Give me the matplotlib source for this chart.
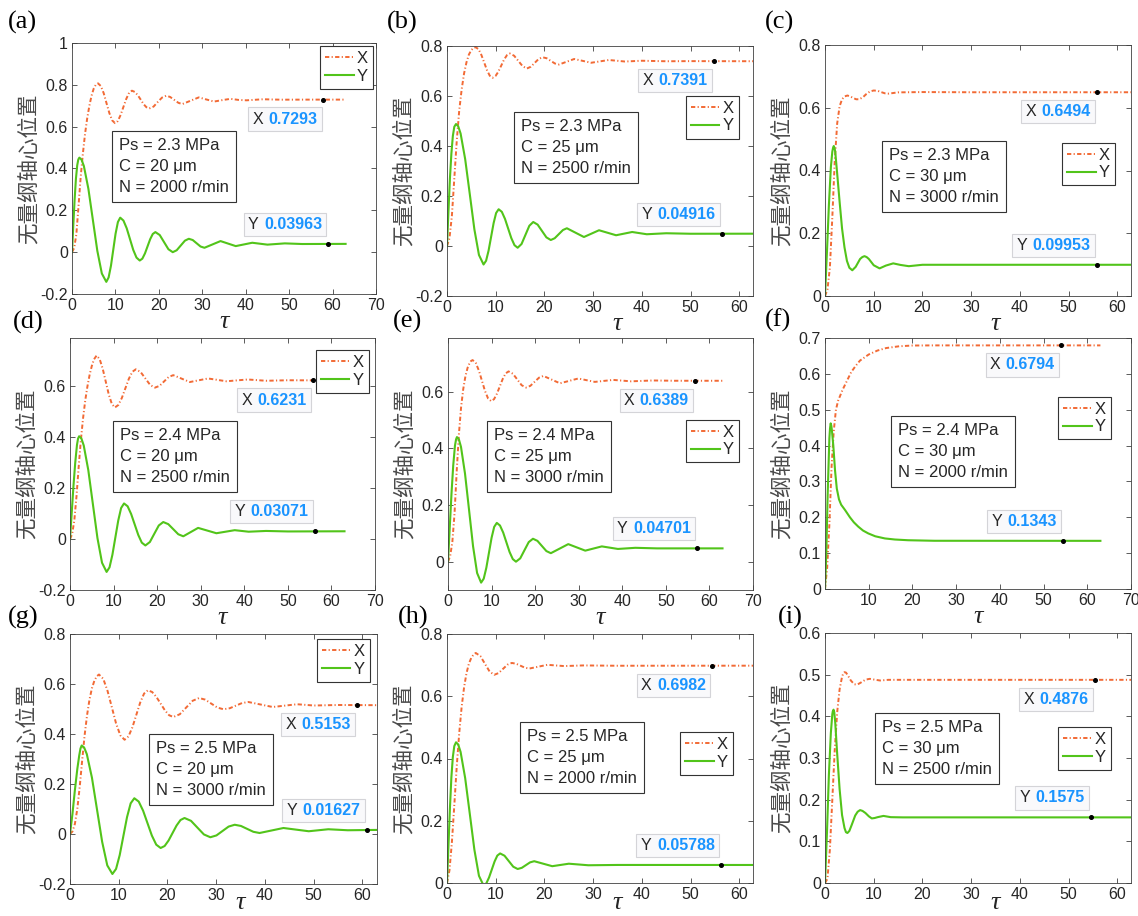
import matplotlib
matplotlib.use("Agg")
import matplotlib.pyplot as plt
from matplotlib.offsetbox import TextArea, HPacker, AnnotationBbox
from matplotlib.ticker import FuncFormatter

plt.rcParams['axes.unicode_minus'] = False
plt.rcParams['font.family'] = ['Liberation Sans', 'DejaVu Sans']

W, H = 1138, 916

# ---------------- data ----------------
# (a) Ps=2.3, C=20, N=2000
TAU_XA = [0, 0.5, 1, 1.5, 2, 2.5, 3, 3.5, 4, 4.5, 5, 5.5, 6, 6.65, 7.3, 7.95, 8.6, 9.25, 9.9, 10.55,
          11.2, 11.85, 12.5, 13.15, 13.8, 14.47, 15.13, 15.8, 16.47, 17.13, 17.8, 18.78, 19.75, 20.73,
          21.7, 22.6, 23.55, 24.5, 25.4, 27.3, 29.2, 30.95, 32.7, 34.6, 36.5, 38.3, 40.2, 44, 48, 55, 63]
XA = [0, 0.02, 0.085, 0.22, 0.36, 0.47, 0.565, 0.64, 0.70, 0.748, 0.782, 0.801, 0.807, 0.794, 0.760,
      0.712, 0.665, 0.630, 0.617, 0.627, 0.656, 0.695, 0.733, 0.762, 0.772, 0.766, 0.751, 0.730, 0.708,
      0.693, 0.687, 0.696, 0.718, 0.739, 0.748, 0.742, 0.728, 0.714, 0.708, 0.724, 0.740, 0.730, 0.720,
      0.727, 0.733, 0.728, 0.726, 0.731, 0.729, 0.7293, 0.7293]
TAU_YA = [0, 0.3, 0.6, 0.9, 1.2, 1.45, 1.7, 2.2, 2.73, 3.77, 4.8, 5.83, 6.87, 7.9, 8.43, 8.97, 9.5, 10.03,
          10.57, 11.1, 11.85, 12.6, 13.35, 14.1, 14.85, 15.6, 16.2, 16.8, 17.4, 18.0, 18.6, 19.2, 20.2,
          21.2, 22.2, 23.2, 24.1, 25.05, 26.0, 26.9, 27.8, 28.7, 29.6, 30.5, 32.35, 34.2, 35.95, 37.7,
          41.5, 45, 49, 53, 63]
YA = [0, 0.13, 0.25, 0.35, 0.415, 0.443, 0.452, 0.442, 0.412, 0.3035, 0.155, 0.0065, -0.102, -0.142,
      -0.121, -0.065, 0.0115, 0.088, 0.144, 0.165, 0.151, 0.114, 0.0625, 0.011, -0.026, -0.04, -0.031,
      -0.006, 0.028, 0.062, 0.087, 0.096, 0.082, 0.048, 0.014, 0.0, 0.009, 0.032, 0.055, 0.064, 0.058,
      0.0425, 0.027, 0.021, 0.037, 0.053, 0.041, 0.029, 0.045, 0.036, 0.042, 0.039, 0.0396]

# (b) Ps=2.3, C=25, N=2500
TAU_XB = [0, 0.5, 1, 1.5, 2, 2.5, 3, 3.5, 4, 4.5, 5, 5.5, 5.9, 6.48, 7.05, 7.63, 8.2, 8.78, 9.35, 9.94,
          10.53, 11.13, 11.72, 12.31, 12.9, 13.78, 14.65, 15.53, 16.4, 17.2, 18.0, 18.8, 19.6, 20.45,
          21.3, 22.15, 23.0, 24.55, 26.1, 27.85, 29.6, 31.4, 33.2, 36.5, 40, 45, 50, 63]
XB = [0, 0.03, 0.12, 0.27, 0.42, 0.54, 0.625, 0.69, 0.735, 0.766, 0.784, 0.793, 0.795, 0.787, 0.7645,
      0.734, 0.7035, 0.681, 0.673, 0.6795, 0.697, 0.7215, 0.746, 0.7635, 0.770, 0.761, 0.740, 0.719,
      0.710, 0.717, 0.7325, 0.748, 0.755, 0.751, 0.7405, 0.730, 0.726, 0.737, 0.748, 0.7405, 0.733,
      0.7385, 0.744, 0.738, 0.741, 0.739, 0.7395, 0.7391]
TAU_YB = [0, 0.3, 0.6, 0.9, 1.2, 1.5, 1.85, 2.3, 2.79, 3.73, 4.68, 5.62, 6.56, 7.5, 8.02, 8.53, 9.05, 9.57,
          10.08, 10.6, 11.25, 11.9, 12.55, 13.2, 13.85, 14.5, 15.3, 16.1, 16.9, 17.7, 18.6, 19.5, 20.4,
          21.3, 22.1, 22.95, 23.8, 24.6, 26.35, 28.1, 29.65, 31.2, 32.95, 34.7, 36.35, 38, 41, 45, 50, 63]
YB = [0, 0.14, 0.27, 0.37, 0.44, 0.477, 0.488, 0.479, 0.450, 0.3475, 0.207, 0.0665, -0.036, -0.074,
      -0.059, -0.0188, 0.0365, 0.0918, 0.132, 0.147, 0.1367, 0.1085, 0.070, 0.0315, 0.0033, -0.007,
      0.008, 0.0445, 0.081, 0.096, 0.0855, 0.060, 0.0345, 0.024, 0.031, 0.0475, 0.064, 0.071, 0.0535,
      0.036, 0.0495, 0.063, 0.053, 0.043, 0.0495, 0.056, 0.047, 0.051, 0.049, 0.0492]

# (c) Ps=2.3, C=30, N=3000
TAU_XC = [0, 0.5, 1, 1.5, 2, 2.5, 3, 3.5, 4, 4.6, 5.2, 5.8, 6.4, 7.0, 7.75, 8.5, 9.25, 10, 10.8, 11.5,
          12.3, 13.1, 14, 15, 20, 30, 63]
XC = [0, 0.02, 0.09, 0.25, 0.43, 0.55, 0.605, 0.627, 0.636, 0.639, 0.636, 0.631, 0.627, 0.627, 0.633,
      0.644, 0.652, 0.655, 0.654, 0.650, 0.646, 0.645, 0.647, 0.649, 0.650, 0.6494, 0.6494]
TAU_YC = [0, 0.4, 0.8, 1.2, 1.5, 1.65, 1.8, 1.95, 2.1, 2.5, 3, 3.5, 4, 4.5, 5, 5.6, 6.3, 7.2, 7.65, 8.1,
          8.55, 9, 10, 11.2, 12.5, 14, 15.5, 17.2, 20, 30, 63]
YC = [0, 0.14, 0.29, 0.41, 0.46, 0.472, 0.478, 0.472, 0.46, 0.39, 0.30, 0.215, 0.155, 0.112, 0.09, 0.082,
      0.093, 0.118, 0.124, 0.127, 0.124, 0.118, 0.098, 0.088, 0.097, 0.104, 0.099, 0.095, 0.0995, 0.0995,
      0.0995]

# (d) Ps=2.4, C=20, N=2500
TAU_XD = [0, 0.5, 1, 1.5, 2, 2.5, 3, 3.5, 4, 4.5, 5, 5.5, 6.1, 6.8, 7.5, 8.2, 8.9, 9.6, 10.3, 11.1, 11.9,
          12.7, 13.5, 14.3, 15.1, 16.2, 17.3, 18.4, 19.5, 20.55, 21.6, 22.65, 23.7, 25.6, 27.5, 29.6, 31.7,
          33.8, 35.9, 38.3, 40.8, 45, 50, 63]
XD = [0, 0.02, 0.075, 0.17, 0.285, 0.39, 0.475, 0.545, 0.60, 0.645, 0.68, 0.706, 0.721, 0.7073, 0.670,
      0.619, 0.568, 0.531, 0.517, 0.527, 0.5545, 0.592, 0.6295, 0.657, 0.667, 0.6565, 0.631, 0.6055,
      0.595, 0.602, 0.6195, 0.637, 0.644, 0.6305, 0.617, 0.624, 0.631, 0.6255, 0.620, 0.6235, 0.627,
      0.622, 0.624, 0.6231]
TAU_YD = [0, 0.4, 0.8, 1.2, 1.6, 1.85, 2.1, 2.6, 3.15, 4.2, 5.25, 6.3, 7.35, 8.4, 9.07, 9.73, 10.4, 11.07,
          11.73, 12.4, 13.22, 14.03, 14.85, 15.67, 16.48, 17.3, 18.33, 19.35, 20.38, 21.4, 22.55, 23.7,
          24.85, 26, 27.7, 29.4, 31.5, 33.6, 35.7, 37.8, 41, 45, 50, 63]
YD = [0, 0.105, 0.21, 0.30, 0.37, 0.395, 0.404, 0.396, 0.368, 0.271, 0.1375, 0.004, -0.093, -0.129,
      -0.111, -0.0617, 0.0055, 0.0727, 0.122, 0.14, 0.129, 0.0987, 0.0575, 0.0162, -0.014, -0.025,
      -0.0115, 0.021, 0.0535, 0.067, 0.0588, 0.039, 0.019, 0.011, 0.0275, 0.044, 0.0335, 0.023, 0.029,
      0.035, 0.029, 0.032, 0.030, 0.0307]

# (e) Ps=2.4, C=25, N=3000
TAU_XE = [0, 0.5, 1, 1.5, 2, 2.5, 3, 3.5, 4, 4.5, 5, 5.3, 5.65, 6.36, 7.07, 7.78, 8.48, 9.19, 9.9, 10.57,
          11.23, 11.9, 12.57, 13.23, 13.9, 14.9, 15.9, 16.9, 17.9, 18.9, 19.9, 20.9, 21.9, 23.8, 25.7,
          27.8, 29.9, 31.8, 33.7, 35.8, 37.9, 42, 47, 52, 63]
XE = [0, 0.02, 0.07, 0.17, 0.32, 0.45, 0.545, 0.61, 0.655, 0.685, 0.703, 0.709, 0.712, 0.7023, 0.6758,
      0.6395, 0.6033, 0.5767, 0.567, 0.574, 0.5933, 0.6195, 0.6458, 0.665, 0.672, 0.6637, 0.6435,
      0.6233, 0.615, 0.621, 0.6355, 0.650, 0.656, 0.643, 0.630, 0.6385, 0.647, 0.641, 0.635, 0.6385,
      0.642, 0.637, 0.640, 0.639, 0.6389]
TAU_YE = [0, 0.4, 0.8, 1.2, 1.6, 1.85, 2.05, 2.5, 2.98, 3.9, 4.83, 5.75, 6.68, 7.6, 8.2, 8.8, 9.4, 10.0,
          10.6, 11.2, 11.93, 12.67, 13.4, 14.13, 14.87, 15.6, 16.58, 17.55, 18.53, 19.5, 20.53, 21.55,
          22.58, 23.6, 25.6, 27.6, 29.55, 31.5, 33.4, 35.3, 39, 43, 48, 63]
YE = [0, 0.12, 0.24, 0.34, 0.41, 0.432, 0.44, 0.432, 0.4056, 0.3115, 0.183, 0.0545, -0.04, -0.074,
      -0.0599, -0.0213, 0.0315, 0.0843, 0.1229, 0.137, 0.1278, 0.1027, 0.0685, 0.0343, 0.0092, 0.0,
      0.0118, 0.0405, 0.0692, 0.081, 0.0735, 0.0555, 0.0375, 0.030, 0.046, 0.062, 0.0505, 0.039, 0.0465,
      0.054, 0.045, 0.049, 0.047, 0.047]

# (f) Ps=2.4, C=30, N=2000
TAU_XF = [0, 0.5, 1, 1.5, 2, 2.5, 3, 4, 5, 6, 7, 8, 10, 12, 14, 17, 20, 25, 63]
XF = [0, 0.06, 0.18, 0.34, 0.44, 0.50, 0.525, 0.555, 0.58, 0.605, 0.622, 0.637, 0.654, 0.665, 0.672,
      0.677, 0.679, 0.6794, 0.6794]
TAU_YF = [0, 0.3, 0.6, 1.0, 1.15, 1.3, 1.45, 1.6, 1.9, 2.3, 2.7, 3.2, 3.7, 4.6, 5.7, 6.6, 7.6, 8.7, 9.9,
          11.5, 13.7, 16, 19, 25, 63]
YF = [0, 0.10, 0.26, 0.42, 0.448, 0.462, 0.455, 0.44, 0.40, 0.33, 0.28, 0.25, 0.235, 0.22, 0.20, 0.186,
      0.174, 0.163, 0.155, 0.147, 0.141, 0.138, 0.136, 0.1345, 0.1343]

# (g) Ps=2.5, C=20, N=3000
TAU_XG = [0, 0.5, 1, 1.5, 2, 2.5, 3, 3.5, 4, 4.5, 5, 5.5, 5.95, 6.83, 7.7, 8.58, 9.45, 10.33, 11.2, 12.0,
          12.8, 13.6, 14.4, 15.2, 16, 16.87, 17.73, 18.6, 19.47, 20.33, 21.2, 22.53, 23.85, 25.18, 26.5,
          27.75, 29, 30.25, 31.5, 32.78, 34.05, 35.33, 36.6, 39.1, 41.6, 44.1, 46.6, 50, 55, 63]
XG = [0, 0.01, 0.04, 0.10, 0.19, 0.295, 0.395, 0.475, 0.538, 0.583, 0.613, 0.631, 0.638, 0.6205, 0.5727,
      0.5075, 0.4423, 0.3945, 0.377, 0.3903, 0.4265, 0.476, 0.5255, 0.5617, 0.575, 0.5678, 0.5483,
      0.5215, 0.4948, 0.4752, 0.468, 0.479, 0.506, 0.533, 0.544, 0.5374, 0.5215, 0.5056, 0.499, 0.503,
      0.5135, 0.524, 0.528, 0.518, 0.508, 0.5135, 0.519, 0.514, 0.516, 0.5153]
TAU_YG = [0, 0.5, 1, 1.5, 1.9, 2.15, 2.4, 2.9, 3.45, 4.5, 5.55, 6.6, 7.65, 8.7, 9.45, 10.2, 10.95, 11.7,
          12.45, 13.2, 14.1, 15.0, 15.9, 16.8, 17.7, 18.6, 19.42, 20.23, 21.05, 21.87, 22.68, 23.5, 24.83,
          26.15, 27.48, 28.8, 30.05, 31.3, 32.55, 33.8, 35.08, 36.35, 37.63, 38.9, 41.35, 43.8, 46.4, 49,
          53, 57, 63]
YG = [0, 0.08, 0.175, 0.26, 0.315, 0.342, 0.354, 0.346, 0.3196, 0.2255, 0.097, -0.0315, -0.1256, -0.16,
      -0.1397, -0.0843, -0.0085, 0.0673, 0.1227, 0.143, 0.1297, 0.0933, 0.0435, -0.0063, -0.0427, -0.056,
      -0.048, -0.026, 0.004, 0.034, 0.056, 0.064, 0.0527, 0.0255, -0.0018, -0.013, -0.0057, 0.012,
      0.0297, 0.037, 0.0322, 0.0205, 0.0088, 0.004, 0.014, 0.024, 0.0175, 0.011, 0.019, 0.015, 0.0163]

# (h) Ps=2.5, C=25, N=2000
TAU_XH = [0, 0.5, 1, 1.5, 2, 2.5, 3, 3.5, 4, 4.5, 5, 5.5, 5.9, 6.85, 7.8, 8.75, 9.7, 10.6, 11.5, 12.4,
          13.3, 14.2, 15.1, 16.0, 16.9, 18.75, 20.6, 24, 28, 35, 63]
XH = [0, 0.04, 0.13, 0.25, 0.375, 0.48, 0.565, 0.628, 0.674, 0.705, 0.724, 0.735, 0.739, 0.729, 0.704,
      0.6792, 0.669, 0.6746, 0.688, 0.7014, 0.707, 0.7044, 0.698, 0.6916, 0.689, 0.695, 0.701, 0.697,
      0.699, 0.698, 0.6982]
TAU_YH = [0, 0.3, 0.6, 0.9, 1.2, 1.5, 1.85, 2.3, 2.79, 3.73, 4.68, 5.62, 6.56, 7.5, 8.07, 8.63, 9.2, 9.77,
          10.33, 10.9, 11.8, 12.7, 13.6, 14.5, 15.35, 16.2, 17.05, 17.9, 19.75, 21.6, 25, 29, 35, 63]
YH = [0, 0.12, 0.24, 0.34, 0.405, 0.44, 0.452, 0.445, 0.421, 0.337, 0.222, 0.107, 0.023, -0.008, -0.0011,
      0.0178, 0.0435, 0.0693, 0.0881, 0.095, 0.0877, 0.070, 0.0523, 0.045, 0.0487, 0.0575, 0.0663, 0.070,
      0.062, 0.054, 0.062, 0.057, 0.058, 0.0579]

# (i) Ps=2.5, C=30, N=2500
TAU_XI = [0, 0.5, 1, 1.5, 2, 2.5, 3, 3.5, 3.75, 4.0, 4.3, 4.6, 5.3, 6.0, 6.6, 7.5, 8.3, 9.2, 10.2, 11.3,
          13, 20, 63]
XI = [0, 0.01, 0.08, 0.20, 0.32, 0.41, 0.465, 0.495, 0.503, 0.506, 0.505, 0.500, 0.486, 0.477, 0.476,
      0.482, 0.488, 0.490, 0.488, 0.486, 0.4876, 0.4876, 0.4876]
TAU_YI = [0, 0.4, 0.8, 1.2, 1.5, 1.6, 1.75, 1.9, 2.1, 2.5, 3.0, 3.5, 4.0, 4.3, 4.6, 5.0, 5.5, 6.2, 6.7,
          7.2, 7.7, 8.3, 9.0, 9.6, 10.2, 10.8, 12, 13.5, 16, 63]
YI = [0, 0.12, 0.26, 0.36, 0.405, 0.412, 0.416, 0.41, 0.385, 0.31, 0.225, 0.163, 0.132, 0.122, 0.12,
      0.125, 0.14, 0.162, 0.171, 0.175, 0.173, 0.168, 0.16, 0.155, 0.156, 0.158, 0.161, 0.158, 0.1575,
      0.1575]

PANEL_LABELS = ["(a)", "(b)", "(c)", "(d)", "(e)", "(f)", "(g)", "(h)", "(i)"]
PS = ["2.3", "2.3", "2.3", "2.4", "2.4", "2.4", "2.5", "2.5", "2.5"]
CLR = ["20", "25", "30", "20", "25", "30", "20", "25", "30"]
SPEED = ["2000", "2500", "3000", "2500", "3000", "2000", "3000", "2000", "2500"]

TIP_X_TAU = [57.9, 54.8, 55.8, 55.8, 56.7, 54.0, 58.9, 54.4, 55.4]
TIP_X_VAL = ["0.7293", "0.7391", "0.6494", "0.6231", "0.6389", "0.6794", "0.5153", "0.6982", "0.4876"]
TIP_Y_TAU = [59.0, 56.4, 55.8, 56.2, 57.2, 54.5, 60.9, 56.2, 54.6]
TIP_Y_VAL = ["0.03963", "0.04916", "0.09953", "0.03071", "0.04701", "0.1343", "0.01627", "0.05788", "0.1575"]

YTICKS = [
    [-0.2, 0, 0.2, 0.4, 0.6, 0.8, 1.0],
    [-0.2, 0, 0.2, 0.4, 0.6, 0.8],
    [0, 0.2, 0.4, 0.6, 0.8],
    [-0.2, 0, 0.2, 0.4, 0.6],
    [0, 0.2, 0.4, 0.6],
    [0, 0.1, 0.2, 0.3, 0.4, 0.5, 0.6, 0.7],
    [-0.2, 0, 0.2, 0.4, 0.6, 0.8],
    [0, 0.2, 0.4, 0.6, 0.8],
    [0, 0.1, 0.2, 0.3, 0.4, 0.5, 0.6],
]
XTICKS = [0, 10, 20, 30, 40, 50, 60, 70]

CURVES = [
    (TAU_XA, XA, TAU_YA, YA), (TAU_XB, XB, TAU_YB, YB), (TAU_XC, XC, TAU_YC, YC),
    (TAU_XD, XD, TAU_YD, YD), (TAU_XE, XE, TAU_YE, YE), (TAU_XF, XF, TAU_YF, YF),
    (TAU_XG, XG, TAU_YG, YG), (TAU_XH, XH, TAU_YH, YH), (TAU_XI, XI, TAU_YI, YI),
]

# ---------------- layout (pixels) ----------------
BOXES = [(72, 43, 376, 294), (447, 46, 753, 296), (825, 45, 1131, 296),
         (70, 338, 375, 590), (448, 338, 753, 590), (825, 338, 1131, 589),
         (70, 634, 377, 884), (447, 634, 753, 883), (825, 633, 1131, 883)]
XLIMS = [70, 62.8, 62.8, 70, 70, 70, 63, 62.8, 62.8]
YLIMS = [(-0.2, 1.0), (-0.2, 0.8), (0, 0.8), (-0.2, 0.79), (-0.1, 0.79), (0, 0.7),
         (-0.2, 0.8), (0, 0.8), (0, 0.6)]
INFO_POS = [(0.133, 0.649), (0.219, 0.736), (0.186, 0.618), (0.141, 0.671), (0.128, 0.671),
            (0.216, 0.689), (0.257, 0.600), (0.239, 0.647), (0.163, 0.680)]
LEG_POS = [(0.99, 0.988), (0.954, 0.80), (0.948, 0.61), (0.98, 0.952), (0.954, 0.675),
           (0.935, 0.765), (0.977, 0.98), (0.935, 0.606), (0.935, 0.624)]
LAB_POS = [(8, 22), (387, 22), (765, 22), (13, 322), (393, 321), (765, 320), (8, 617), (398, 617), (778, 617)]

ORANGE = '#F26A35'
GREEN = '#52C41A'
BLUE = '#1A94FF'
DARK = '#262626'

fig = plt.figure(figsize=(W / 100, H / 100), dpi=100)

TIP_FS = 11.5
TIP_PAD = 0.38


def datatip(ax, x, y, name, val, above):
    t1 = TextArea(name, textprops=dict(color=DARK, fontsize=TIP_FS))
    t2 = TextArea(val, textprops=dict(color=BLUE, fontsize=TIP_FS, fontweight='bold'))
    pack = HPacker(children=[t1, t2], align='baseline', pad=0, sep=4)
    padpt = TIP_PAD * TIP_FS
    dy = 4.3 + padpt
    ab = AnnotationBbox(pack, (x, y), xycoords='data',
                        xybox=(-padpt, dy if above else -dy), boxcoords='offset points',
                        box_alignment=(1, 0) if above else (1, 1),
                        frameon=True, pad=TIP_PAD,
                        bboxprops=dict(boxstyle='square', fc='#f9f9fb', ec='#d4d4d8', lw=0.8),
                        zorder=5)
    ax.add_artist(ab)
    ax.plot([x], [y], 'o', ms=2.6, color='k', zorder=6)


for i in range(9):
    l, t, r, b = BOXES[i]
    ax = fig.add_axes([l / W, 1 - b / H, (r - l) / W, (b - t) / H])
    tx, xv, ty, yv = CURVES[i]
    nx = min(len(tx), len(xv))
    ny = min(len(ty), len(yv))
    ax.plot(tx[:nx], xv[:nx], color=ORANGE, lw=1.4, linestyle=(0, (2.2, 1.2, 0.6, 1.2)), label='X',
            dash_joinstyle='round', dash_capstyle='butt')
    ax.plot(ty[:ny], yv[:ny], color=GREEN, lw=1.5, label='Y', solid_joinstyle='round')

    ax.set_xlim(0, XLIMS[i])
    ax.set_ylim(*YLIMS[i])
    ax.set_xticks([v for v in XTICKS if v <= XLIMS[i]])
    ax.set_yticks(YTICKS[i])
    if i == 5:
        ax.xaxis.set_major_formatter(FuncFormatter(lambda v, p: '' if v == 0 else f'{v:g}'))
    else:
        ax.xaxis.set_major_formatter(FuncFormatter(lambda v, p: f'{v:g}'))
    ax.yaxis.set_major_formatter(FuncFormatter(lambda v, p: f'{round(v, 3):g}'))
    ax.tick_params(direction='in', length=3.5, width=0.6, top=True, right=True,
                   labelsize=11.5, labelcolor=DARK, color='#404040', pad=3)
    for s in ax.spines.values():
        s.set_linewidth(0.6)
        s.set_color('#404040')

    ax.set_xlabel('τ', fontsize=19, fontstyle='italic', family=['Liberation Serif', 'DejaVu Serif'],
                  labelpad=-1.5, color=DARK)
    if i >= 6:
        # bottom row: keep the label inside the figure
        ax.xaxis.set_label_coords(35.0 / XLIMS[i], -(914 - b) / (b - t))
        ax.xaxis.label.set_va('bottom')
    else:
        ax.xaxis.label.set_x(35.0 / XLIMS[i])
    ax.set_ylabel('无量纲轴心位置', family=['Noto Sans CJK SC', 'DejaVu Sans'], fontsize=15.5,
                  color='#4a4a4a')
    ax.yaxis.set_label_coords(-32 / (r - l), 0.5)

    info = f"Ps = {PS[i]} MPa\nC = {CLR[i]} μm\nN = {SPEED[i]} r/min"
    fx, fy = INFO_POS[i]
    ax.annotate(info, xy=(fx, fy), xycoords='axes fraction', xytext=(5, -5),
                textcoords='offset points', ha='left', va='top', fontsize=12, color=DARK,
                linespacing=1.5,
                bbox=dict(boxstyle='square,pad=0.42', fc='white', ec='#333333', lw=0.8), zorder=4)

    leg = ax.legend(loc='upper right', bbox_to_anchor=LEG_POS[i], fontsize=12, handlelength=1.7,
                    handletextpad=0.2, borderpad=0.3, labelspacing=0.15, borderaxespad=0.0,
                    fancybox=False, framealpha=1, edgecolor='#333333')
    leg.get_frame().set_linewidth(0.8)
    for txt in leg.get_texts():
        txt.set_color(DARK)

    datatip(ax, TIP_X_TAU[i], float(TIP_X_VAL[i]), 'X', TIP_X_VAL[i], above=False)
    datatip(ax, TIP_Y_TAU[i], float(TIP_Y_VAL[i]), 'Y', TIP_Y_VAL[i], above=True)

    lx, ly = LAB_POS[i]
    fig.text(lx / W, 1 - ly / H, PANEL_LABELS[i], family=['Liberation Serif', 'DejaVu Serif'],
             fontsize=19, va='center', ha='left', color='black')

fig.savefig('out.png', dpi=100)
